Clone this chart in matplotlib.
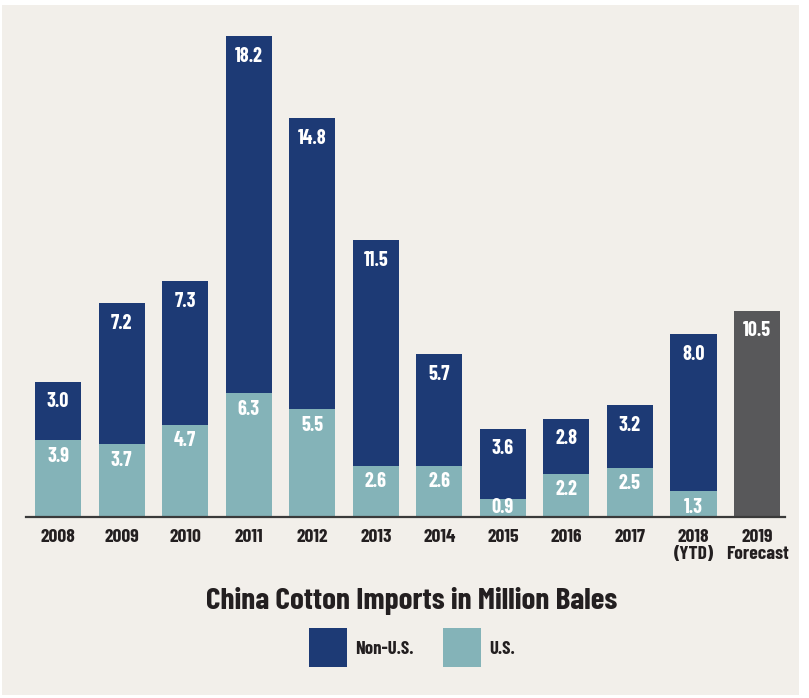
import matplotlib
matplotlib.use("Agg")
import matplotlib.pyplot as plt
from matplotlib.patches import Rectangle

# Data
years = ["2008", "2009", "2010", "2011", "2012", "2013", "2014", "2015",
         "2016", "2017", "2018\n(YTD)", "2019\nForecast"]
us = [3.9, 3.7, 4.7, 6.3, 5.5, 2.6, 2.6, 0.9, 2.2, 2.5, 1.3]
non_us = [3.0, 7.2, 7.3, 18.2, 14.8, 11.5, 5.7, 3.6, 2.8, 3.2, 8.0]
forecast = 10.5

# Colours
BG = "#f2efea"
NAVY = "#1d3a75"
TEAL = "#84b3b8"
GRAY = "#58585a"
TEXT = "#231f20"

FONT = dict(family="Barlow Condensed", weight="bold")

fig = plt.figure(figsize=(8.09, 6.98), dpi=100, facecolor="white")
fig.patches.append(Rectangle((2 / 809, 3 / 698), 797 / 809, 690 / 698,
                             transform=fig.transFigure, facecolor=BG,
                             edgecolor="none", zorder=-10))

ax = fig.add_axes([26 / 809, 181 / 698, 759 / 809, 481 / 698])
ax.set_facecolor("none")

x = list(range(len(us)))
w = 0.725
ax.bar(x, us, width=w, color=TEAL)
ax.bar(x, non_us, width=w, bottom=us, color=NAVY)
ax.bar(len(us), forecast, width=w, color=GRAY)

def label(xp, top, val, dy):
    ax.annotate(f"{val:.1f}", (xp, top), xytext=(0, dy), textcoords="offset pixels",
                ha="center", va="center", color="white", fontsize=14.5, **FONT)

for i in x:
    dy_us = -16 if us[i] > 1 else -8
    label(i, us[i], us[i], dy_us)
    label(i, us[i] + non_us[i], non_us[i], -20)
label(len(us), forecast, forecast, -20)

ax.set_xlim(-0.504, 11.44)
ax.set_ylim(0, 24.5)
for s in ["top", "right", "left"]:
    ax.spines[s].set_visible(False)
ax.spines["bottom"].set_color("#3a3a3a")
ax.spines["bottom"].set_linewidth(1.6)
ax.set_yticks([])
ax.set_xticks(range(len(years)))
ax.set_xticklabels(years, color=TEXT, fontsize=14, linespacing=0.95, **FONT)
ax.tick_params(axis="x", length=0, pad=9)

fig.text(412 / 809, 1 - 601 / 698, "China Cotton Imports in Million Bales",
         ha="center", va="center", fontsize=22.5, color=TEXT, **FONT)

# Legend
for x0, col, lab in [(309, NAVY, "Non-U.S."), (443, TEAL, "U.S.")]:
    fig.patches.append(Rectangle((x0 / 809, 1 - 667 / 698), 38 / 809, 39 / 698,
                                 transform=fig.transFigure, facecolor=col,
                                 edgecolor="none"))
    fig.text((x0 + 46) / 809, 1 - 650 / 698, lab, ha="left", va="center",
             fontsize=13.5, color=TEXT, **FONT)

fig.savefig("out.png", dpi=100, facecolor="white")
